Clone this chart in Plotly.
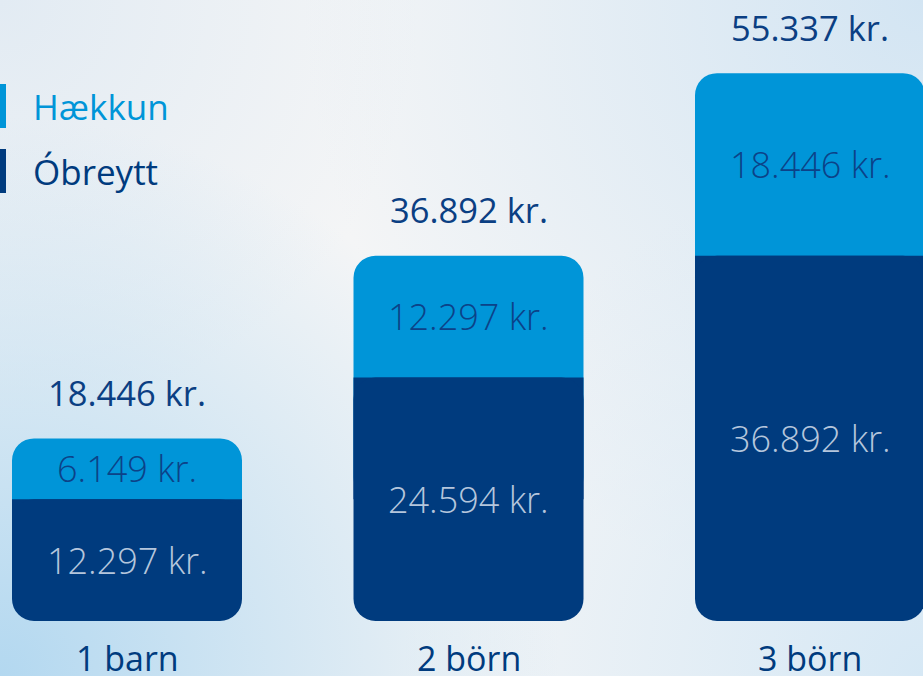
import base64
import plotly.graph_objects as go

# ---- data ----
categories = ["1 barn", "2 börn", "3 börn"]
obreytt = [12297, 24594, 36892]      # Óbreytt (unchanged)
haekkun = [6149, 12297, 18446]       # Hækkun (increase)
totals = [18446, 36892, 55337]       # label above each bar
series_names = ["Hækkun", "Óbreytt"]


def kr(v):
    return f"{v:,}".replace(",", ".") + " kr."


LIGHT = "#0095D8"
DARK = "#003B7E"
NAVY_TXT = "#0B3F83"
FONT = "Open Sans, Noto Sans, sans-serif"
RADIUS = 22
BARW = 0.6735

# background gradient as an inline svg
svg = """<svg xmlns='http://www.w3.org/2000/svg' width='923' height='676' viewBox='0 0 923 676' preserveAspectRatio='none'>
<defs>
<radialGradient id='bl' cx='0' cy='676' r='560' gradientUnits='userSpaceOnUse'>
<stop offset='0' stop-color='#B3D8F0' stop-opacity='1'/>
<stop offset='1' stop-color='#B3D8F0' stop-opacity='0'/>
</radialGradient>
<radialGradient id='tr' cx='923' cy='0' r='620' gradientUnits='userSpaceOnUse'>
<stop offset='0' stop-color='#D3E5F3' stop-opacity='1'/>
<stop offset='1' stop-color='#D3E5F3' stop-opacity='0'/>
</radialGradient>
<radialGradient id='tl' cx='0' cy='0' r='420' gradientUnits='userSpaceOnUse'>
<stop offset='0' stop-color='#E2EBF3' stop-opacity='1'/>
<stop offset='1' stop-color='#E2EBF3' stop-opacity='0'/>
</radialGradient>
<radialGradient id='br' cx='923' cy='676' r='520' gradientUnits='userSpaceOnUse'>
<stop offset='0' stop-color='#D6E8F5' stop-opacity='1'/>
<stop offset='1' stop-color='#D6E8F5' stop-opacity='0'/>
</radialGradient>
</defs>
<rect width='923' height='676' fill='#F4F5F6'/>
<rect width='923' height='676' fill='url(#tl)'/>
<rect width='923' height='676' fill='url(#tr)'/>
<rect width='923' height='676' fill='url(#br)'/>
<rect width='923' height='676' fill='url(#bl)'/>
</svg>"""
bg_src = "data:image/svg+xml;base64," + base64.b64encode(svg.encode()).decode()

stack_top = [o + h for o, h in zip(obreytt, haekkun)]
half_o = [o / 2 for o in obreytt]

fig = go.Figure()

# light (Hækkun) part: rounded body from mid of dark part up to top of stack
fig.add_trace(go.Bar(
    x=categories, y=[t - m for t, m in zip(stack_top, half_o)], base=half_o,
    name=series_names[0],
    marker=dict(color=LIGHT, line=dict(width=0), cornerradius=RADIUS),
    width=BARW, hoverinfo="skip", showlegend=False,
))
# dark (Óbreytt) square upper half, gives a straight boundary with the light part
fig.add_trace(go.Bar(
    x=categories, y=half_o, base=half_o,
    name=series_names[1],
    marker=dict(color=DARK, line=dict(width=0)),
    width=BARW, hoverinfo="skip", showlegend=False,
))
# dark (Óbreytt) full segment with rounded bottom
fig.add_trace(go.Bar(
    x=categories, y=obreytt, base=[0] * len(obreytt),
    name=series_names[1],
    marker=dict(color=DARK, line=dict(width=0), cornerradius=RADIUS),
    width=BARW, hoverinfo="skip", showlegend=False,
))

annotations = []
# in-bar value labels
for c, o, h in zip(categories, obreytt, haekkun):
    annotations.append(dict(
        x=c, y=o / 2, xref="x", yref="y", text=kr(o), showarrow=False,
        yanchor="middle",
        font=dict(family=FONT, size=36, color="#B5C6DC", weight=300),
    ))
    annotations.append(dict(
        x=c, y=o + h / 2, xref="x", yref="y", text=kr(h), showarrow=False,
        yanchor="middle",
        font=dict(family=FONT, size=36, color="#0C4288", weight=300),
    ))
# totals above bars
for c, t in zip(categories, totals):
    annotations.append(dict(
        x=c, y=t, xref="x", yref="y", text=kr(t), showarrow=False,
        yanchor="middle", yshift=46,
        font=dict(family=FONT, size=34.5, color=NAVY_TXT, weight=400),
    ))
# category labels under bars
for c in categories:
    annotations.append(dict(
        x=c, y=0, xref="x", yref="y", text=c, showarrow=False,
        yanchor="middle", yshift=-37,
        font=dict(family=FONT, size=34, color=DARK),
    ))

# legend (custom)
legend_colors = [LIGHT, DARK]
legend_y = [106, 171]
shapes = []
for name, col, ly in zip(series_names, legend_colors, legend_y):
    annotations.append(dict(
        x=31 / 923, y=1 - ly / 676, xref="paper", yref="paper", text=name,
        showarrow=False, xanchor="left", yanchor="middle",
        font=dict(family=FONT, size=35, color=col),
    ))
    shapes.append(dict(
        type="rect", xref="paper", yref="paper",
        x0=0, x1=6 / 923, y0=1 - (ly + 22) / 676, y1=1 - (ly - 22) / 676,
        fillcolor=col, line=dict(width=0),
    ))

fig.update_layout(
    width=923, height=676,
    margin=dict(l=0, r=0, t=0, b=0),
    barmode="overlay",
    paper_bgcolor="#F4F5F6",
    plot_bgcolor="rgba(0,0,0,0)",
    images=[dict(source=bg_src, xref="paper", yref="paper", x=0, y=1,
                 sizex=1, sizey=1, sizing="stretch", layer="below",
                 xanchor="left", yanchor="top")],
    xaxis=dict(type="category", range=[-0.3719, 2.3309], visible=False,
               fixedrange=True),
    yaxis=dict(range=[-5556, 62727], visible=False, fixedrange=True),
    annotations=annotations,
    shapes=shapes,
    showlegend=False,
)

fig.write_html("out.html", config={"displayModeBar": False},
               post_script="document.body.style.margin='0px';")
